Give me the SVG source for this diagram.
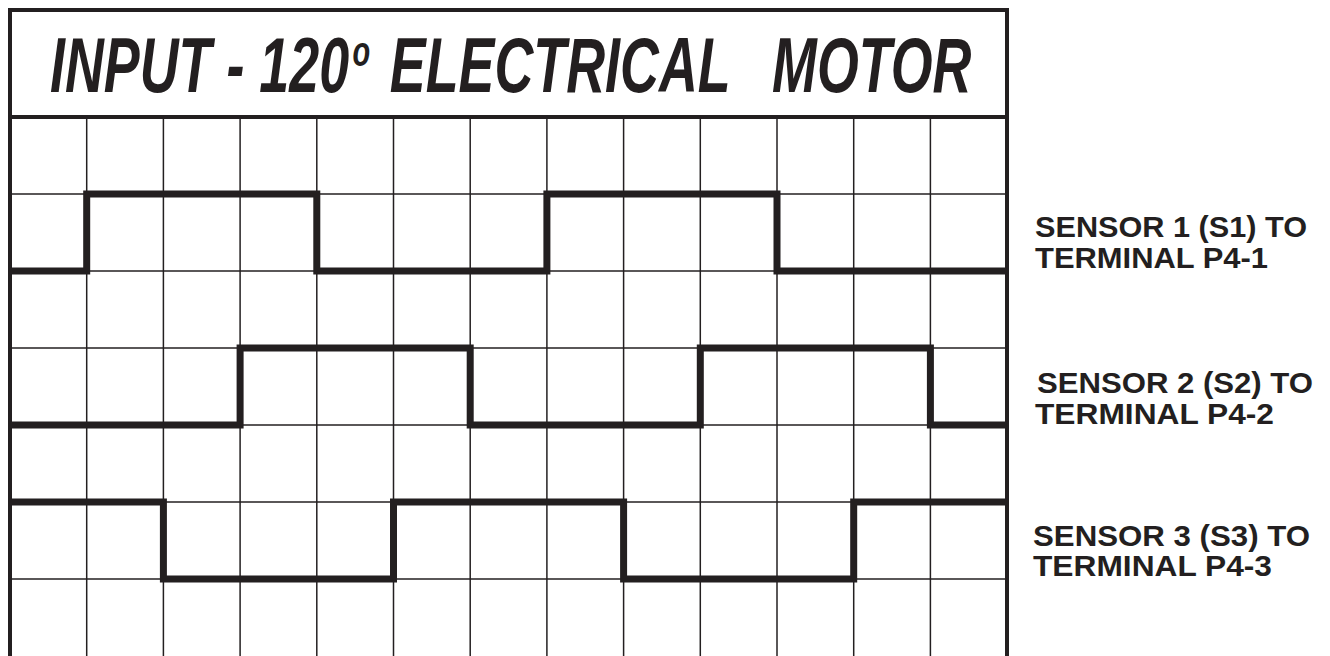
<svg xmlns="http://www.w3.org/2000/svg" width="1330" height="656" viewBox="0 0 1330 656">
<style>
.frame{fill:none;stroke:#231f20;stroke-width:4}
.grid line{stroke:#231f20;stroke-width:1.5}
.wave{fill:none;stroke:#231f20;stroke-width:7;stroke-linejoin:miter}
.title{font-family:"Liberation Sans",Arial,sans-serif;font-weight:bold;font-style:italic;font-size:78px;fill:#231f20}
.lbl{font-family:"Liberation Sans",Arial,sans-serif;font-weight:bold;font-size:30px;fill:#231f20}
</style>
<rect width="1330" height="656" fill="#fff"/>
<g id="grid" class="grid">
<line x1="86.7" y1="117" x2="86.7" y2="656"/>
<line x1="163.4" y1="117" x2="163.4" y2="656"/>
<line x1="240.1" y1="117" x2="240.1" y2="656"/>
<line x1="316.8" y1="117" x2="316.8" y2="656"/>
<line x1="393.5" y1="117" x2="393.5" y2="656"/>
<line x1="470.2" y1="117" x2="470.2" y2="656"/>
<line x1="546.9" y1="117" x2="546.9" y2="656"/>
<line x1="623.6" y1="117" x2="623.6" y2="656"/>
<line x1="700.3" y1="117" x2="700.3" y2="656"/>
<line x1="777" y1="117" x2="777" y2="656"/>
<line x1="853.7" y1="117" x2="853.7" y2="656"/>
<line x1="930.4" y1="117" x2="930.4" y2="656"/>
<line x1="10" y1="194" x2="1007" y2="194"/>
<line x1="10" y1="271" x2="1007" y2="271"/>
<line x1="10" y1="348" x2="1007" y2="348"/>
<line x1="10" y1="425" x2="1007" y2="425"/>
<line x1="10" y1="502" x2="1007" y2="502"/>
<line x1="10" y1="579" x2="1007" y2="579"/>
</g>
<g id="frame">
<path class="frame" d="M10,656 V10 H1007 V656"/>
<line x1="10" y1="117" x2="1007" y2="117" stroke="#231f20" stroke-width="4"/>
</g>
<g id="title" transform="scale(0.69,1)">
<text class="title" y="92"><tspan x="72.5">INPUT - 120</tspan><tspan x="511" y="66" style="font-size:42px">o</tspan><tspan x="565" y="92">ELECTRICAL</tspan><tspan x="1119" y="92">MOTOR</tspan></text>
</g>
<g id="connectors">
<path id="s1-wave" class="wave" d="M10,271 H86.7 V194 H316.8 V271 H546.9 V194 H777 V271 H1007"/>
<path id="s2-wave" class="wave" d="M10,425 H240.1 V348 H470.2 V425 H700.3 V348 H930.4 V425 H1007"/>
<path id="s3-wave" class="wave" d="M10,502 H163.4 V579 H393.5 V502 H623.6 V579 H853.7 V502 H1007"/>
</g>
<g id="label-s1">
<text class="lbl" x="1035" y="237" textLength="272" lengthAdjust="spacingAndGlyphs">SENSOR 1 (S1) TO</text>
<text class="lbl" x="1035" y="268" textLength="233" lengthAdjust="spacingAndGlyphs">TERMINAL P4-1</text>
</g>
<g id="label-s2">
<text class="lbl" x="1037" y="393" textLength="276" lengthAdjust="spacingAndGlyphs">SENSOR 2 (S2) TO</text>
<text class="lbl" x="1035" y="424" textLength="239" lengthAdjust="spacingAndGlyphs">TERMINAL P4-2</text>
</g>
<g id="label-s3">
<text class="lbl" x="1033" y="546" textLength="277" lengthAdjust="spacingAndGlyphs">SENSOR 3 (S3) TO</text>
<text class="lbl" x="1033" y="576" textLength="239" lengthAdjust="spacingAndGlyphs">TERMINAL P4-3</text>
</g>
</svg>
